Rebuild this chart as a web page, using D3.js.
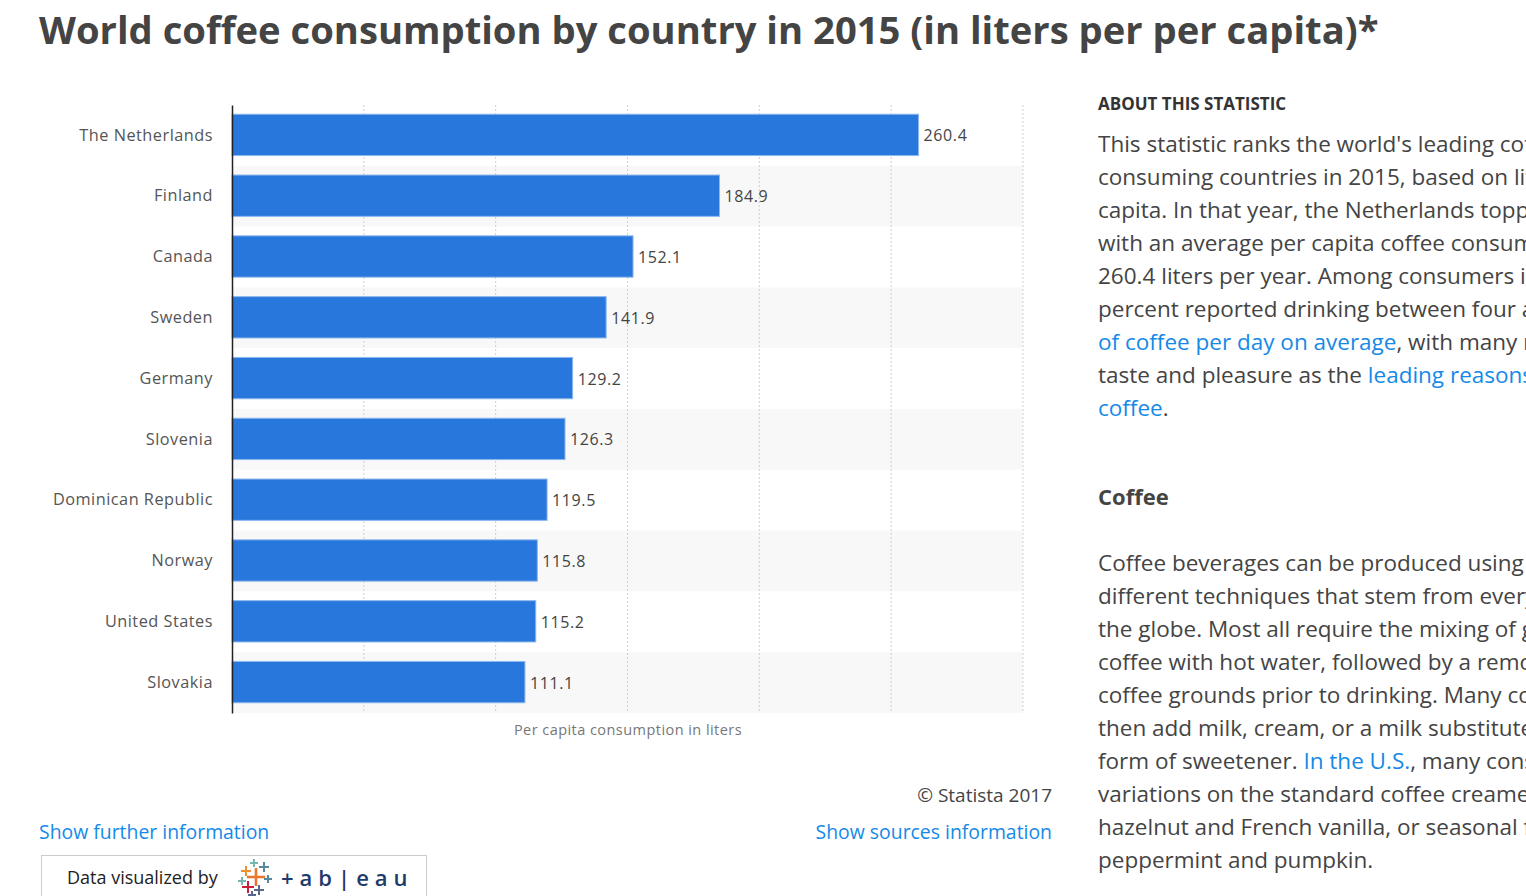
<!DOCTYPE html>
<html><head><meta charset="utf-8">
<script src="https://cdn.jsdelivr.net/npm/d3@7"></script>
<style>
html,body{margin:0;padding:0;background:#fff;overflow:hidden;}
svg{display:block;font-family:"Open Sans",sans-serif;}
</style></head>
<body><svg id="c" width="1526" height="896"></svg>
<script>
const countries = ["The Netherlands","Finland","Canada","Sweden","Germany","Slovenia","Dominican Republic","Norway","United States","Slovakia"];
const values = [260.4,184.9,152.1,141.9,129.2,126.3,119.5,115.8,115.2,111.1];
const xTicks = [0,50,100,150,200,250,300];
const titleText = "World coffee consumption by country in 2015 (in liters per per capita)*";
const axisTitle = "Per capita consumption in liters";
const aboutLines = [
  [["This statistic ranks the world's leading coffee",0]],
  [["consuming countries in 2015, based on liters per",0]],
  [["capita. In that year, the Netherlands topped the list",0]],
  [["with an average per capita coffee consumption of",0]],
  [["260.4 liters per year. Among consumers in the U.S.",0]],
  [["percent reported drinking between four and five cups",0]],
  [["of coffee per day on average",1],[", with many respondents citing",0]],
  [["taste and pleasure as the ",0],["leading reasons for drinking",1]],
  [["coffee",1],[".",0]]
];
const coffeeLines = [
  [["Coffee beverages can be produced using many",0]],
  [["different techniques that stem from every corner of",0]],
  [["the globe. Most all require the mixing of ground",0]],
  [["coffee with hot water, followed by a removal of the",0]],
  [["coffee grounds prior to drinking. Many consumers",0]],
  [["then add milk, cream, or a milk substitute and some",0]],
  [["form of sweetener. ",0],["In the U.S.",1],[", many consumers enjoy",0]],
  [["variations on the standard coffee creamer, such as",0]],
  [["hazelnut and French vanilla, or seasonal flavors like",0]],
  [["peppermint and pumpkin.",0]]
];

const svg = d3.select("#c");
const blue = "#2877dc", link = "#1589e8", textCol = "#444";

// Title
const t = svg.append("text").attr("x",39).attr("y",44)
  .attr("font-size",38).attr("font-weight",700).attr("fill","#444").text(titleText);
const tw = t.node().getComputedTextLength();
t.attr("font-size", 38*1340/tw);

// Chart
const x = d3.scaleLinear().domain([0,300]).range([232,1023]);
const y = d3.scaleBand().domain(countries).range([105,713]).paddingInner(0);
const bandPad = 0.16;

const g = svg.append("g");
g.selectAll("rect.row").data(countries).join("rect")
  .attr("x",232).attr("width",x(300)-232)
  .attr("y",d=>y(d)).attr("height",y.bandwidth())
  .attr("fill",(d,i)=> i%2 ? "#f8f8f8" : "#fff");
g.selectAll("line.grid").data(xTicks.slice(1)).join("line")
  .attr("x1",d=>x(d)).attr("x2",d=>x(d)).attr("y1",105).attr("y2",713)
  .attr("stroke","#cfcfcf").attr("stroke-dasharray","2,2").attr("stroke-width",1);
g.selectAll("rect.bar").data(values).join("rect")
  .attr("x",x(0)).attr("y",(d,i)=>y(countries[i])+y.bandwidth()*bandPad-0.5)
  .attr("width",d=>x(d)-x(0)).attr("height",y.bandwidth()*(1-2*bandPad))
  .attr("fill",blue).attr("stroke","#8fb8ee").attr("stroke-width",1);
g.selectAll("text.val").data(values).join("text")
  .attr("x",d=>x(d)+5).attr("y",(d,i)=>y(countries[i])+y.bandwidth()/2+6)
  .attr("font-size",16).attr("fill","#444").attr("letter-spacing",0.6)
  .text(d=>d.toFixed(1));
const yAxis = d3.axisLeft(y).tickSize(0).tickPadding(19);
const ya = svg.append("g").attr("transform","translate(232,0)").call(yAxis);
ya.select(".domain").attr("stroke","#222").attr("stroke-width",1.5);
ya.selectAll("text").attr("font-size",16.3).attr("fill","#555").attr("font-family","Open Sans")
  .attr("letter-spacing",0.5);
svg.append("text").attr("x",628).attr("y",735).attr("text-anchor","middle")
  .attr("font-size",14.5).attr("fill","#777").attr("letter-spacing",0.45).text(axisTitle);

// Footer
svg.append("text").attr("x",1052).attr("y",802).attr("text-anchor","end")
  .attr("font-size",19).attr("fill","#444").text("© Statista 2017");
svg.append("text").attr("x",1052).attr("y",839).attr("text-anchor","end")
  .attr("font-size",19.4).attr("fill",link).text("Show sources information");
svg.append("text").attr("x",39).attr("y",839)
  .attr("font-size",19.4).attr("fill",link).text("Show further information");

// Tableau box
svg.append("rect").attr("x",41.5).attr("y",855.5).attr("width",385).attr("height",60)
  .attr("fill","#fff").attr("stroke","#ccc");
svg.append("text").attr("x",67).attr("y",884).attr("font-size",18).attr("fill","#222").text("Data visualized by");
const logo = svg.append("g").attr("transform","translate(256,877)");
const plusses = [
  [0,0,9,"#e8762d"],[-10,-6,5,"#f28e2b"],[-2,-14,4,"#76b7b2"],[8,-10,5,"#59879b"],
  [-14,4,4,"#76b7b2"],[-8,10,6,"#c72037"],[3,13,5,"#5b6591"],[12,2,4,"#59879b"],[-4,18,4,"#5b6591"]
];
plusses.forEach(([cx,cy,s,c])=>{
  logo.append("path").attr("d",`M${cx-s},${cy}H${cx+s}M${cx},${cy-s}V${cy+s}`)
    .attr("stroke",c).attr("stroke-width",s>6?2.6:2);
});
svg.append("text").attr("x",281).attr("y",886).attr("font-size",22).attr("fill","#1f3b6b")
  .attr("letter-spacing",6).attr("font-weight",600).text("+ab|eau");

// Right panel
svg.append("text").attr("x",1098).attr("y",110).attr("font-size",17).attr("font-weight",700)
  .attr("fill","#333").text("ABOUT THIS STATISTIC");
function para(lines, y0){
  lines.forEach((segs,i)=>{
    const tx = svg.append("text").attr("x",1098).attr("y",y0+i*33).attr("font-size",22.5).attr("fill",textCol);
    segs.forEach(([s,l])=> tx.append("tspan").attr("fill",l?link:textCol).text(s));
  });
}
para(aboutLines,152);
svg.append("text").attr("x",1098).attr("y",505).attr("font-size",22).attr("font-weight",700)
  .attr("fill","#444").text("Coffee");
para(coffeeLines,571);
</script></body></html>
